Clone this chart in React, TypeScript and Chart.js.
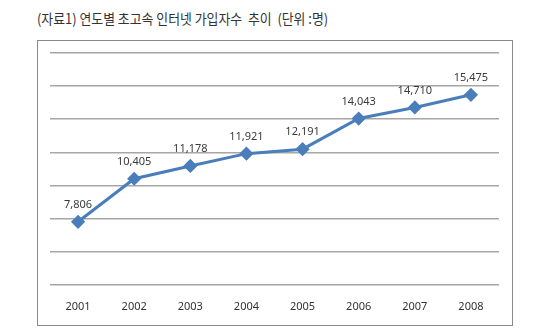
import React, { useEffect, useRef } from "react";
import { Chart, registerables } from "chart.js";

Chart.register(...registerables);

const titleText = "(자료1) 연도별 초고속 인터넷 가입자수  추이  (단위 :명)";
const years = ["2001", "2002", "2003", "2004", "2005", "2006", "2007", "2008"];
const subscribers = [7806, 10405, 11178, 11921, 12191, 14043, 14710, 15475];
const yMin = 4000;
const yMax = 18000;
const yStep = 2000;

const LABEL_FONT = "'Noto Sans', 'DejaVu Sans', sans-serif";

const valueLabels = {
  id: "valueLabels",
  afterDatasetsDraw(chart: any) {
    const ctx = chart.ctx;
    const meta = chart.getDatasetMeta(0);
    const data = chart.data.datasets[0].data as number[];
    ctx.save();
    ctx.font = `11px ${LABEL_FONT}`;
    ctx.fillStyle = "#3a3a3a";
    ctx.textAlign = "center";
    ctx.textBaseline = "middle";
    meta.data.forEach((pt: any, i: number) => {
      ctx.fillText(data[i].toLocaleString("en-US"), pt.x, pt.y - 17);
    });
    ctx.restore();
  },
};

export default function App() {
  const ref = useRef<HTMLCanvasElement | null>(null);
  useEffect(() => {
    if (!ref.current) return;
    const chart = new Chart(ref.current, {
      type: "line",
      data: {
        labels: years,
        datasets: [
          {
            data: subscribers,
            borderColor: "#4a7ebb",
            backgroundColor: "#4a7ebb",
            borderWidth: 3,
            pointStyle: "rectRot",
            pointRadius: 5,
            pointBackgroundColor: "#4a7ebb",
            pointBorderColor: "#4a7ebb",
            tension: 0,
          },
        ],
      },
      options: {
        responsive: false,
        animation: false,
        layout: { padding: { left: 12, right: 13, top: 12, bottom: -3 } },
        plugins: {
          legend: { display: false },
          tooltip: { enabled: false },
          title: { display: false },
        },
        scales: {
          x: {
            offset: true,
            grid: { display: false, drawTicks: false },
            border: { display: false },
            ticks: {
              padding: 15,
              color: "#333333",
              font: { size: 11, family: LABEL_FONT },
            },
          },
          y: {
            min: yMin,
            max: yMax,
            grid: { color: "#a6a6a6", lineWidth: 1.5, drawTicks: false },
            border: { display: false },
            ticks: { display: false, stepSize: yStep },
          },
        },
      },
      plugins: [valueLabels],
    });
    return () => chart.destroy();
  }, []);

  return (
    <div
      style={{
        position: "absolute",
        left: 0,
        top: 0,
        width: 550,
        height: 336,
        background: "#ffffff",
      }}
    >
      <div
        style={{
          position: "absolute",
          left: 37,
          top: 8,
          fontFamily: "'Noto Sans CJK KR', sans-serif",
          fontSize: 14,
          color: "#333333",
          whiteSpace: "pre",
          transform: "scaleX(0.92)",
          transformOrigin: "left top",
        }}
      >
        {titleText}
      </div>
      <div
        style={{
          position: "absolute",
          left: 37,
          top: 40,
          width: 474,
          height: 284,
          border: "1px solid #8a8a8a",
        }}
      >
        <canvas ref={ref} width={474} height={284} style={{ display: "block" }} />
      </div>
    </div>
  );
}
